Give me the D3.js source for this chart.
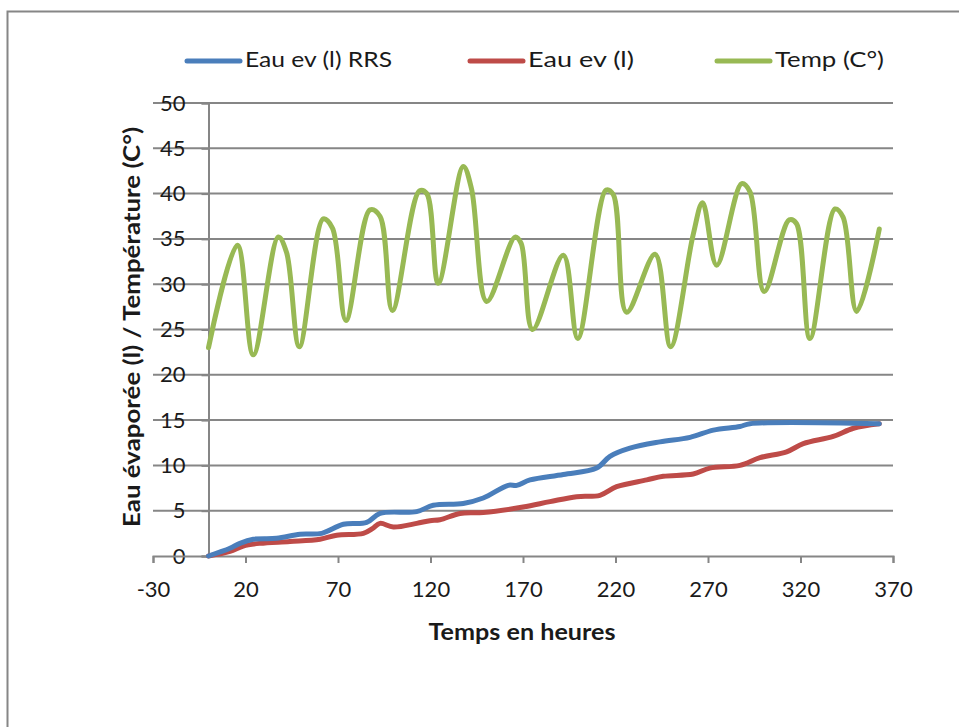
<!DOCTYPE html>
<html><head><meta charset="utf-8">
<script src="https://cdn.jsdelivr.net/npm/d3@7"></script>
<style>
body{margin:0;background:#fff;}
text{font-family:Lato,"Open Sans",sans-serif;fill:#1a1a1a;}
</style></head><body>
<svg id="chart" width="959" height="727"></svg>
<script>
// ---- data ----
const seriesNames = ["Eau ev (l) RRS", "Eau ev (l)", "Temp (C°)"];
const seriesColors = ["#4a7ebb", "#be4b48", "#98b954"];

const rrsHours = [0, 11.6, 17, 24.2, 36.8, 49.5, 61.2, 72.9, 85.5, 92.7, 112.5, 121.5, 137.7, 148.5, 162, 166.6, 173.8, 191.8, 209.8, 217, 227.8, 244, 260.3, 272.9, 287.3, 292.7, 362.6];
const rrsValues = [0, 0.85, 1.4, 1.85, 1.95, 2.4, 2.5, 3.5, 3.7, 4.7, 4.9, 5.6, 5.8, 6.4, 7.8, 7.8, 8.4, 9.0, 9.7, 11.0, 11.9, 12.6, 13.1, 13.9, 14.3, 14.6, 14.6];

const evHours = [0, 11.6, 18.8, 27.8, 44, 60.3, 69.3, 83.7, 88.8, 92.7, 99.9, 112.5, 119.7, 125.1, 135.9, 148.5, 170, 184.6, 199, 211.6, 220.6, 236.9, 245.8, 262, 271, 287.3, 298.1, 312.5, 321.5, 337.7, 348.6, 362.6];
const evValues = [0, 0.5, 1.1, 1.4, 1.6, 1.85, 2.3, 2.5, 3.05, 3.6, 3.2, 3.6, 3.9, 4.0, 4.7, 4.8, 5.4, 6.0, 6.55, 6.7, 7.65, 8.4, 8.8, 9.05, 9.7, 10.0, 10.85, 11.5, 12.4, 13.2, 14.1, 14.6];

const tempHours = [0, 15.6, 24.2, 37.7, 42.2, 49.1, 62, 67, 74.3, 87.3, 92.7, 99.4, 114, 118, 124.2, 137.7, 142.2, 150.4, 165.7, 169, 175.2, 191.8, 199.6, 214.9, 218.8, 226, 241.4, 249.8, 261.9, 267.1, 274.7, 288.2, 292.7, 300.4, 313.9, 317.8, 325.1, 338.6, 343, 350.4, 362.6];
const tempValues = [23, 34.3, 22.2, 35.2, 33.5, 23.1, 37.2, 36.2, 26, 38.2, 37.5, 27.1, 40.3, 40.0, 30.1, 43.0, 40.5, 28.1, 35.2, 34.5, 25.0, 33.2, 24.0, 40.4, 39.9, 26.9, 33.3, 23.1, 35.4, 39.0, 32.1, 41.1, 40.2, 29.2, 37.1, 36.7, 24.0, 38.3, 37.4, 27.0, 36.1];

const xTicks = [-30, 20, 70, 120, 170, 220, 270, 320, 370];
const yTicks = [0, 5, 10, 15, 20, 25, 30, 35, 40, 45, 50];

// ---- layout ----
const svg = d3.select("#chart");
const plot = {left: 153, right: 893, top: 103, bottom: 556};
const x = d3.scaleLinear().domain([-30, 370]).range([plot.left, plot.right]);
const y = d3.scaleLinear().domain([0, 50]).range([plot.bottom, plot.top]);
const gridColor = "#868686";

// outer frame
svg.append("rect").attr("x", 7.5).attr("y", 11.5).attr("width", 1000).attr("height", 1000)
  .attr("fill", "none").attr("stroke", gridColor).attr("stroke-width", 2);

// horizontal gridlines
svg.append("g").selectAll("line").data(yTicks.filter(d => d > 0)).join("line")
  .attr("x1", plot.left).attr("x2", plot.right)
  .attr("y1", d => y(d)).attr("y2", d => y(d))
  .attr("stroke", gridColor).attr("stroke-width", 2);

// y axis at x=0
const yAxis = d3.axisLeft(y).tickValues(yTicks).tickSize(7).tickPadding(16);
const gy = svg.append("g").attr("transform", `translate(${x(0)},0)`).call(yAxis);
gy.select(".domain").attr("stroke", gridColor).attr("stroke-width", 2);
gy.selectAll(".tick line").attr("stroke", gridColor).attr("stroke-width", 2);
gy.selectAll(".tick text").attr("font-size", 22).attr("font-family", null).attr("fill", "#1a1a1a");

// x axis at y=0
const xAxis = d3.axisBottom(x).tickValues(xTicks).tickSize(7).tickPadding(24).tickFormat(d3.format("d"));
const gx = svg.append("g").attr("transform", `translate(0,${y(0)})`).call(xAxis);
gx.select(".domain").attr("stroke", gridColor).attr("stroke-width", 2);
gx.selectAll(".tick line").attr("stroke", gridColor).attr("stroke-width", 2);
gx.selectAll(".tick text").attr("font-size", 22).attr("font-family", null).attr("fill", "#1a1a1a")
  .attr("dy", "0.32em").attr("y", 34);
gx.selectAll(".tick text").text(d => d < 0 ? "-" + Math.abs(d) : d);

// lines
const line = d3.line().x(d => x(d[0])).y(d => y(d[1])).curve(d3.curveCatmullRom.alpha(0.5));
const series = [
  d3.zip(rrsHours, rrsValues),
  d3.zip(evHours, evValues),
  d3.zip(tempHours, tempValues)
];
[2, 1, 0].forEach(i => {
  svg.append("path").datum(series[i]).attr("d", line)
    .attr("fill", "none").attr("stroke", seriesColors[i]).attr("stroke-width", 5)
    .attr("stroke-linejoin", "round").attr("stroke-linecap", "round");
});

// legend
const legendX = [187, 470, 717];
const legendW = [147, 106, 109];
seriesNames.forEach((n, i) => {
  const g = svg.append("g").attr("transform", `translate(${legendX[i]},61)`);
  g.append("line").attr("x1", 0).attr("x2", 53).attr("y1", 0).attr("y2", 0)
    .attr("stroke", seriesColors[i]).attr("stroke-width", 5).attr("stroke-linecap", "round");
  g.append("text").attr("x", 58).attr("y", 6).attr("font-size", 22)
    .attr("textLength", legendW[i]).attr("lengthAdjust", "spacingAndGlyphs").text(n);
});

// axis titles
svg.append("text").attr("x", 522).attr("y", 640).attr("text-anchor", "middle")
  .attr("font-size", 22).attr("font-weight", "bold")
  .attr("textLength", 187).attr("lengthAdjust", "spacingAndGlyphs").text("Temps en heures");
svg.append("text").attr("transform", "translate(140,327) rotate(-90)").attr("text-anchor", "middle")
  .attr("font-size", 22).attr("font-weight", "bold")
  .attr("textLength", 400).attr("lengthAdjust", "spacingAndGlyphs").text("Eau évaporée (l) / Température (C°)");
</script>
</body></html>
